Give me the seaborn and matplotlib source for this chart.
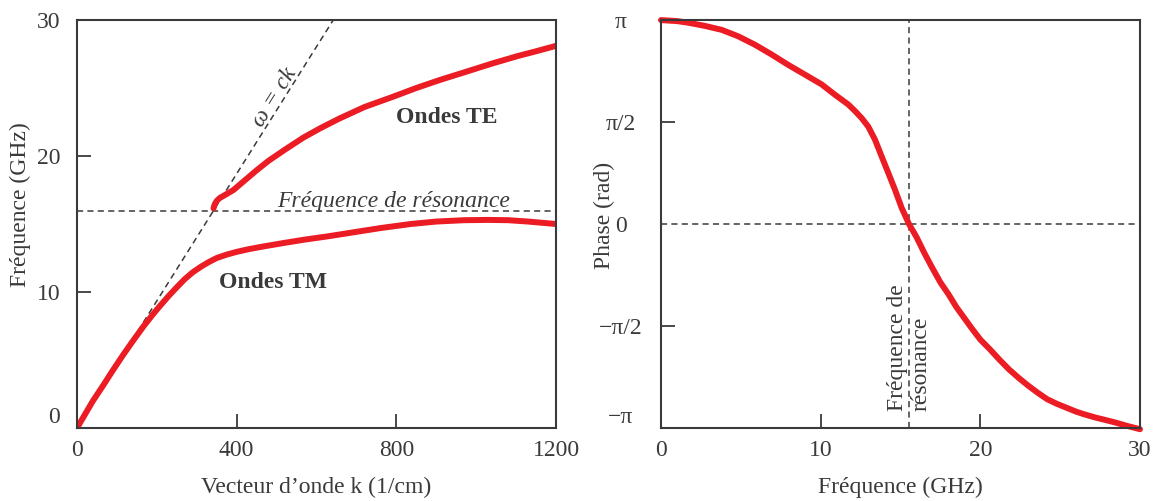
import numpy as np
import pandas as pd
import matplotlib
matplotlib.use("Agg")
import matplotlib.pyplot as plt
import seaborn as sns

# --- données ---
# relation de dispersion (gauche)
k_tm = [0, 20, 40, 66, 90, 115, 140, 166, 190, 210, 230, 250, 270, 290, 310, 330, 350,
        375, 400, 430, 467, 517, 570, 630, 684, 760, 836, 900, 970, 1030, 1080, 1130, 1200]
f_tm = [0, 1.0, 2.0, 3.15, 4.25, 5.35, 6.4, 7.45, 8.35, 9.05, 9.72, 10.35, 10.95, 11.45,
        11.85, 12.2, 12.5, 12.75, 12.95, 13.15, 13.35, 13.6, 13.85, 14.1, 14.35, 14.7,
        15.0, 15.18, 15.28, 15.3, 15.28, 15.18, 15.0]

k_te = [342, 345, 350, 358, 370, 392, 420, 450, 480, 520, 567, 610, 657, 720, 791, 850,
        910, 970, 1040, 1104, 1150, 1200]
f_te = [16.15, 16.45, 16.7, 16.92, 17.12, 17.5, 18.2, 18.95, 19.65, 20.45, 21.35, 22.05,
        22.75, 23.6, 24.35, 25.0, 25.6, 26.15, 26.8, 27.35, 27.7, 28.1]

k_lumiere = [0, 642]
f_lumiere = [0, 30]
f_res_gauche = 15.95

# phase (droite)
f_phase = [0, 1.0, 1.7, 2.76, 3.8, 4.84, 5.89, 6.93, 7.97, 9.02, 10.06, 10.9, 11.73,
           12.15, 12.57, 12.98, 13.4, 13.82, 14.23, 14.65, 15.07, 15.53, 16.0, 16.5,
           17.0, 17.5, 18.0, 18.5, 19.0, 19.5, 20.0, 20.6, 21.2, 21.8, 22.4, 23.0,
           23.6, 24.2, 24.8, 25.3, 26.0, 26.5, 27.2, 27.7, 28.5, 29.2, 30]
phase = [3.14, 3.125, 3.10, 3.05, 2.99, 2.89, 2.76, 2.61, 2.45, 2.30, 2.15, 1.99, 1.84,
         1.74, 1.63, 1.50, 1.30, 1.04, 0.79, 0.53, 0.25, 0.0, -0.2, -0.45,
         -0.68, -0.90, -1.08, -1.28, -1.45, -1.62, -1.78, -1.93, -2.09, -2.24, -2.37, -2.49,
         -2.60, -2.70, -2.77, -2.82, -2.89, -2.93, -2.98, -3.01, -3.06, -3.11, -3.16]
f_res_droite = 15.55

xticks_g = [0, 400, 800, 1200]
yticks_g = [0, 10, 20, 30]
xticks_d = [0, 10, 20, 30]
yticks_d = [-np.pi, -np.pi / 2, 0, np.pi / 2, np.pi]
ylabels_d = ["\u2212\u03c0", "\u2212\u03c0/2", "0", "\u03c0/2", "\u03c0"]

rouge = "#ec1c24"
gris = "#3a3a3a"

sns.set_theme(style="white")
plt.rcParams['font.family'] = ['Liberation Serif', 'DejaVu Serif']
plt.rcParams['text.color'] = gris
plt.rcParams['axes.labelcolor'] = gris
plt.rcParams['xtick.color'] = gris
plt.rcParams['ytick.color'] = gris

fig = plt.figure(figsize=(11.64, 5.01), dpi=100)
ax1 = fig.add_axes([77 / 1164, 73 / 501, 479 / 1164, 408 / 501])
ax2 = fig.add_axes([661 / 1164, 73 / 501, 479 / 1164, 408 / 501])

tirets = (4, 2.8)

# ---- panneau gauche ----
sns.lineplot(x=k_lumiere, y=f_lumiere, ax=ax1, color=gris, lw=1.1)
ax1.lines[-1].set_dashes(tirets)
ax1.axhline(f_res_gauche, color=gris, lw=1.1, dashes=tirets)
sns.lineplot(x=k_tm, y=f_tm, ax=ax1, color=rouge, lw=4.3, sort=False)
sns.lineplot(x=k_te, y=f_te, ax=ax1, color=rouge, lw=4.3, sort=False)
for ln in ax1.lines[2:]:
    ln.set_solid_capstyle("round")
    ln.set_solid_joinstyle("round")

ax1.set_xlim(0, 1200)
ax1.set_ylim(0, 30)
ax1.set_xticks(xticks_g)
ax1.set_yticks(yticks_g)
ax1.set_xlabel("Vecteur d\u2019onde k (1/cm)", fontsize=17, labelpad=11)
ax1.set_ylabel("Fréquence (GHz)", fontsize=17)
ax1.yaxis.set_label_coords(-0.096, 0.547)

ax1.text(794, 16.25, "Fréquence de résonance", fontsize=17, style="italic",
         ha="center", va="baseline")
ax1.text(927, 22.8, "Ondes TE", fontsize=17, weight="bold", ha="center", va="center")
ax1.text(491, 10.7, "Ondes TM", fontsize=17, weight="bold", ha="center", va="center")
ax1.text(496, 24.3, "\u03c9 = ck", fontsize=17, style="italic", rotation=58,
         rotation_mode="anchor", ha="center", va="center")

# ---- panneau droit ----
ax2.axvline(f_res_droite, color=gris, lw=1.1, dashes=tirets)
ax2.axhline(0, color=gris, lw=1.1, dashes=tirets)
sns.lineplot(x=f_phase, y=phase, ax=ax2, color=rouge, lw=4.3, sort=False)
ax2.lines[-1].set_clip_on(False)
ax2.lines[-1].set_solid_joinstyle("round")

ax2.set_xlim(0, 30)
ax2.set_ylim(-np.pi, np.pi)
ax2.set_xticks(xticks_d)
ax2.set_yticks(yticks_d)
ax2.set_yticklabels(ylabels_d)
ax2.set_xlabel("Fréquence (GHz)", fontsize=17, labelpad=11)
ax2.set_ylabel("Phase (rad)", fontsize=17)
ax2.yaxis.set_label_coords(-0.096, 0.522)
ax2.text(f_res_droite, -2.88, "Fréquence de\nrésonance", fontsize=17, rotation=90,
         ha="center", va="bottom", multialignment="left")

for ax in (ax1, ax2):
    for sp in ax.spines.values():
        sp.set_color(gris)
        sp.set_linewidth(1.5)
    ax.tick_params(bottom=True, left=True, top=False, right=False)
    ax.tick_params(direction="in", length=10, width=1.3, labelsize=17, colors=gris)
    ax.tick_params(axis="x", pad=9)
    xt = ax.xaxis.get_major_ticks()
    yt = ax.yaxis.get_major_ticks()
    for t in (xt[0], xt[-1], yt[0], yt[-1]):
        t.tick1line.set_visible(False)
    yt[0].label1.set_verticalalignment("bottom")
    if ax.get_legend() is not None:
        ax.get_legend().remove()

ax1.tick_params(axis="y", pad=12)
ax2.yaxis.get_major_ticks()[2].tick1line.set_visible(False)
ax2.tick_params(axis="y", pad=29)
for lab in ax2.get_yticklabels():
    lab.set_horizontalalignment("center")

fig.savefig("out.png", dpi=100)
